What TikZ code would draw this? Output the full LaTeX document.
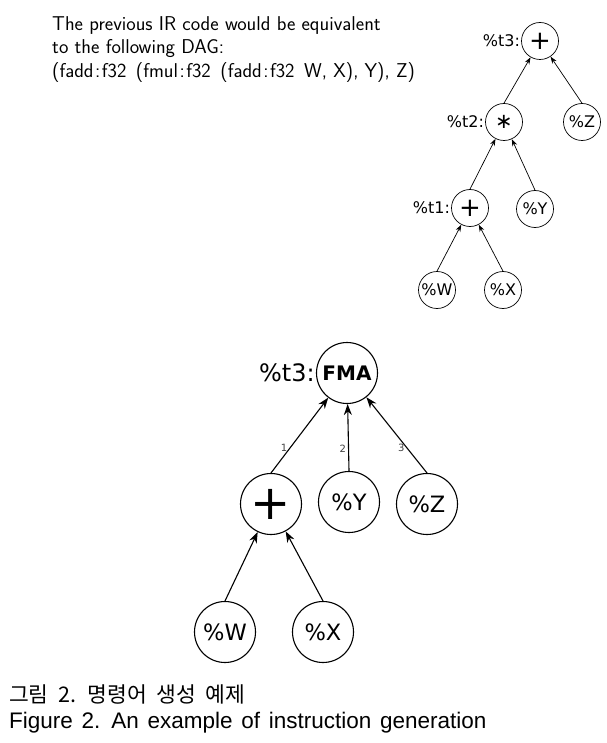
\documentclass[tikz,border=0pt]{standalone}
\usepackage{fontspec}
\newfontfamily\dejavu{DejaVu Sans}
\newfontfamily\dejavubold{DejaVu Sans Bold}
\newfontfamily\hangul[WordSpace=2.0]{Noto Sans CJK KR}
\newfontfamily\capfont[WordSpace=1.4]{Liberation Sans}
\usetikzlibrary{arrows.meta, positioning}

\begin{document}
\begin{tikzpicture}[x=1pt, y=-1pt,
    % --- STYLES ---
    op/.style={draw, circle, minimum size=37pt, inner sep=0pt, line width=0.7pt, font=\dejavu\fontsize{16}{16}\selectfont},
    opbig/.style={draw, circle, minimum size=61pt, inner sep=0pt, line width=1.1pt, font=\dejavu\fontsize{22.5}{22.5}\selectfont},
    tag/.style={font=\dejavu\fontsize{16}{16}\selectfont, inner sep=1pt},
    tagbig/.style={font=\dejavu\fontsize{24}{24}\selectfont, inner sep=1pt},
    num/.style={font=\dejavu\fontsize{10}{10}\selectfont, text=black!75, inner sep=2pt},
    arrow/.style={-{Stealth[length=7pt, width=5pt]}, line width=0.7pt},
    bigarrow/.style={-{Stealth[length=11pt, width=8pt]}, line width=1.1pt}
]
    \useasboundingbox (0,0) rectangle (606,743);

    % ==========================================
    % INTRO TEXT
    % ==========================================
    \node[anchor=north west, align=left, inner sep=0pt,
          font=\sffamily\fontsize{20}{23.5}\selectfont] (intro) at (52,16)
        {The previous IR code would be equivalent\\
         to the following DAG:\\
         (fadd\kern1.5pt:\kern1.5pt f32\ \,(fmul\kern1.5pt:\kern1.5pt f32\ \,(fadd\kern1.5pt:\kern1.5pt f32\ \,W, X), Y), Z)};

    % ==========================================
    % DAG (top right)
    % ==========================================
    \node[op, label={[tag]left:\%t3:}] (t3) at (540,41) {\fontsize{26}{26}\selectfont +};
    \node[op, label={[tag]left:\%t2:}] (t2) at (504,122) {\fontsize{21}{21}\selectfont ∗};
    \node[op] (z1) at (582,122) {\%Z};
    \node[op, label={[tag]left:\%t1:}] (t1) at (470,208) {\fontsize{26}{26}\selectfont +};
    \node[op] (y1) at (535,209) {\%Y};
    \node[op] (w1) at (437,290) {\%W};
    \node[op] (x1) at (503,290) {\%X};

    \draw[arrow] (t2.north) -- (t3);
    \draw[arrow] (z1.north) -- (t3);
    \draw[arrow] (t1.north) -- (t2);
    \draw[arrow] (y1.north) -- (t2);
    \draw[arrow] (w1.north) -- (t1);
    \draw[arrow] (x1.north) -- (t1);

    % ==========================================
    % FMA DAG (middle)
    % ==========================================
    \node[opbig, label={[tagbig]left:\%t3:}] (fma) at (347,373) {\dejavubold\fontsize{20}{20}\selectfont FMA};
    \node[opbig] (plus2) at (271,504) {\fontsize{48}{48}\selectfont +};
    \node[opbig] (y2) at (349,502) {\%Y};
    \node[opbig] (z2) at (427,504) {\%Z};
    \node[opbig] (w2) at (225,632) {\%W};
    \node[opbig] (x2) at (323,632) {\%X};

    \draw[bigarrow] (plus2.north) -- node[num, left, pos=0.33] {1} (fma);
    \draw[bigarrow] (y2.north) -- node[num, left, pos=0.33] {2} (fma);
    \draw[bigarrow] (z2.north) -- node[num, left, pos=0.33] {3} (fma);
    \draw[bigarrow] (w2.north) -- (plus2);
    \draw[bigarrow] (x2.north) -- (plus2);

    % ==========================================
    % CAPTION
    % ==========================================
    \node[anchor=base west, inner sep=0pt, font=\hangul\fontsize{21.5}{21.5}\selectfont] (capko) at (9,702) {그림 2. 명령어 생성 예제};
    \node[anchor=base west, inner sep=0pt, font=\capfont\fontsize{22.5}{22.5}\selectfont] (capen) at (9,728) {Figure 2. An example of instruction generation};

\end{tikzpicture}
\end{document}
